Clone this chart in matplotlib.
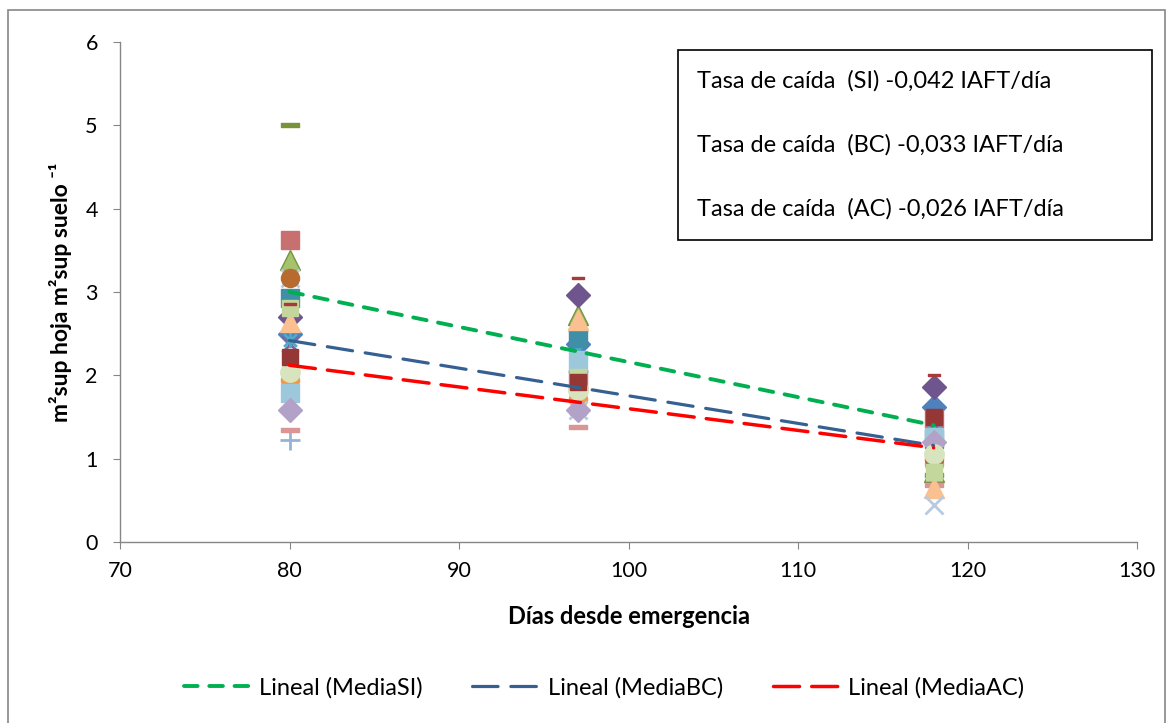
import numpy as np
import matplotlib
matplotlib.use("Agg")
import matplotlib.pyplot as plt
from matplotlib.path import Path
from matplotlib.patches import Rectangle
from matplotlib.lines import Line2D

plt.rcParams['font.family'] = ['Lato', 'DejaVu Sans']

# ---- data ----
dias = [80, 97, 118]
media_si = [3.00, 2.29, 1.40]
media_bc = [2.42, 1.85, 1.16]
media_ac = [2.12, 1.68, 1.13]

s01 = [2.50, 2.38, 1.62]
s02 = [3.62, 1.95, 1.48]
s03 = [3.38, 2.72, 0.84]
s04 = [2.38, 1.62, 1.42]
s05 = [2.42, 2.30, 1.32]
s06 = [1.94, 1.72, 0.94]
s07 = [1.22, 2.05, 1.18]
s08 = [1.35, 1.38, 0.68]
s09 = [5.00, 2.55, 0.80]
s10 = [2.70, 2.96, 1.86]
s11 = [2.93, 2.45, 1.24]
s12 = [2.64, 2.66, 0.65]
s13 = [3.17, 1.58, 0.45]
s14 = [3.17, 1.85, 1.00]
s15 = [1.79, 2.18, 1.26]
s16 = [1.58, 1.58, 1.20]
s17 = [2.04, 1.82, 1.06]
s18 = [2.81, 1.98, 0.84]
s19 = [2.22, 1.92, 1.50]
s20 = [2.86, 3.17, 2.00]

texto_tasas = ["Tasa de caída  (SI) -0,042 IAFT/día",
               "Tasa de caída  (BC) -0,033 IAFT/día",
               "Tasa de caída  (AC) -0,026 IAFT/día"]
leyenda = ["Lineal (MediaSI)", "Lineal (MediaBC)", "Lineal (MediaAC)"]

# ---- markers ----
star_path = Path([(-1, -1), (1, 1), (-1, 1), (1, -1), (0, -1.2), (0, 1.2)],
                 [Path.MOVETO, Path.LINETO, Path.MOVETO, Path.LINETO, Path.MOVETO, Path.LINETO])
dash_marker = [(-1, -0.22), (1, -0.22), (1, 0.22), (-1, 0.22), (-1, -0.22)]

styles = [
    (s01, 'D', '#4F81BD', '#4F81BD', 12),
    (s02, 's', '#C87070', '#C87070', 13),
    (s03, '^', '#A5C26C', '#77933C', 14),
    (s04, 'x', '#8064A2', '#8064A2', 12),
    (s05, star_path, '#4BACC6', '#4BACC6', 11),
    (s06, 'o', '#F79646', '#F79646', 13),
    (s07, '+', '#95B3D7', '#95B3D7', 14),
    (s08, dash_marker, '#D99694', '#D99694', 13),
    (s09, dash_marker, '#77933C', '#77933C', 13),
    (s10, 'D', '#6E558E', '#6E558E', 12),
    (s11, 's', '#3F8FA8', '#3F8FA8', 13),
    (s12, '^', '#FAC090', '#FAC090', 14),
    (s13, 'x', '#B9C9E0', '#B9C9E0', 13),
    (s14, 'o', '#B86B2F', '#B86B2F', 13),
    (s15, 's', '#9DC8DC', '#9DC8DC', 13),
    (s16, 'D', '#B3A2C7', '#B3A2C7', 12),
    (s17, 'o', '#D7E4BD', '#D7E4BD', 14),
    (s18, 's', '#C3D69B', '#C3D69B', 11),
    (s19, 's', '#953735', '#953735', 11),
    (s20, dash_marker, '#A83A3A', '#A83A3A', 9),
]

W, H = 1173, 723
fig = plt.figure(figsize=(W / 100, H / 100), dpi=100)
ax = fig.add_axes([120 / W, 1 - 542 / H, (1137 - 120) / W, (542 - 42) / H])

for vals, mk, fc, ec, ms in styles:
    is_line = (isinstance(mk, str) and mk in ('x', '+')) or mk is star_path
    ax.plot(dias, vals, linestyle='none', marker=mk, markersize=ms,
            markerfacecolor='none' if is_line else fc, markeredgecolor=ec,
            markeredgewidth=2 if is_line else 1, zorder=3)

# trend lines from linear fit of means
xs = np.array([dias[0], dias[-1]], dtype=float)
trend_specs = [
    (media_si, '#00B050', 2.8, (3.5, 3.0)),
    (media_bc, '#376092', 2.3, (8.0, 4.0)),
    (media_ac, '#FF0000', 2.5, (7.5, 3.5)),
]
handles = []
for (m, c, lw, dsh), lab in zip(trend_specs, leyenda):
    p = np.polyfit(dias, m, 1)
    ax.plot(xs, np.polyval(p, xs), color=c, lw=lw, dashes=dsh, zorder=4,
            dash_capstyle='round')
    handles.append(Line2D([], [], color=c, lw=lw, dashes=dsh, dash_capstyle='round'))

ax.set_xlim(70, 130)
ax.set_ylim(0, 6)
ax.set_xticks(range(70, 131, 10))
ax.set_yticks(range(0, 7))
for s in ('top', 'right'):
    ax.spines[s].set_visible(False)
for s in ('left', 'bottom'):
    ax.spines[s].set_color('#868686')
    ax.spines[s].set_linewidth(1.0)
ax.tick_params(axis='both', colors='#868686', labelcolor='black', labelsize=15.5,
               length=5, direction='out')
ax.tick_params(axis='x', pad=9)
ax.tick_params(axis='y', pad=11)

ax.set_xlabel("Días desde emergencia", fontsize=17, fontweight='bold')
ax.set_ylabel("m²sup hoja m²sup suelo ⁻¹", fontsize=16.5, fontweight='bold')
ax.xaxis.set_label_coords((617 - 120) / 1017 - 0.0, (542 - 617) / 500)
ax.xaxis.set_label_coords(0.5 + (628 - 628) / 1017, (542 - 617) / 500)
ax.xaxis.label.set_va('center')
ax.yaxis.set_label_coords((60 - 120) / 1017, (542 - 292) / 500)
ax.yaxis.label.set_va('center')

# text box
fig.patches.append(Rectangle((678 / W, 1 - 240 / H), (1152 - 678) / W, (240 - 50) / H,
                             transform=fig.transFigure, fill=True, facecolor='white',
                             edgecolor='black', lw=1.2, zorder=5))
for i, t in enumerate(texto_tasas):
    fig.text(697 / W, 1 - (81 + 64 * i) / H, t, fontsize=17, va='center', ha='left', zorder=6)

# outer border
fig.patches.append(Rectangle((8 / W, -0.05), (1165 - 8) / W, 1.05 - 10 / H,
                             transform=fig.transFigure, fill=False,
                             edgecolor='#868686', lw=1.2))

fig.legend(handles, leyenda, loc='center', bbox_to_anchor=(604 / W, 1 - 688 / H),
           ncol=3, frameon=False, fontsize=17, handlelength=2.8, columnspacing=2.1,
           handletextpad=0.4)

fig.savefig("out.png", dpi=100)
